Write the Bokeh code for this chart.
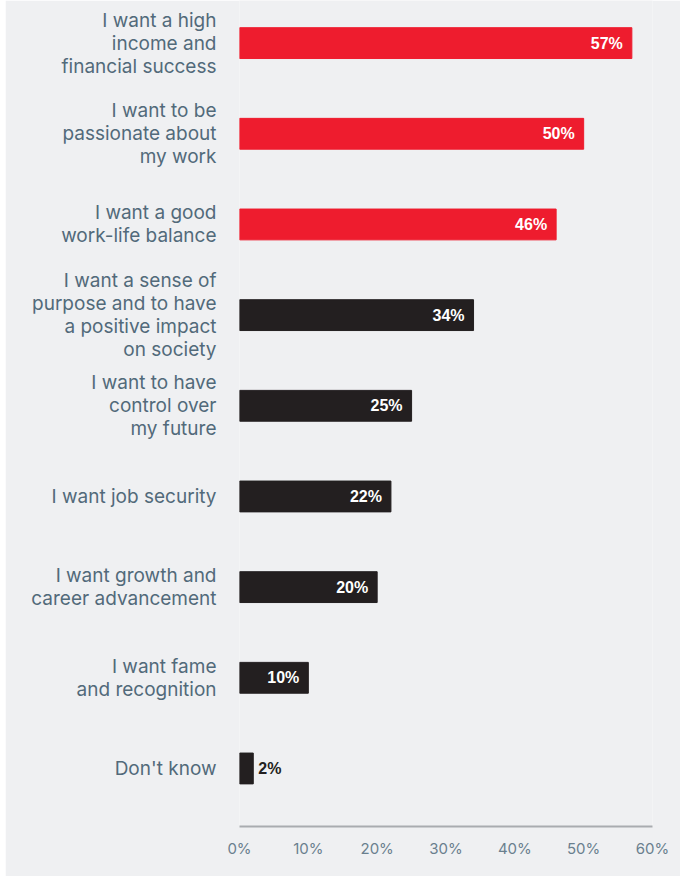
from bokeh.plotting import figure
from bokeh.models import Range1d, FixedTicker, PrintfTickFormatter, ColumnDataSource
from bokeh.embed import file_html
from bokeh.resources import INLINE
from bokeh.core.properties import value

categories = [
    "I want a high\nincome and\nfinancial success",
    "I want to be\npassionate about\nmy work",
    "I want a good\nwork-life balance",
    "I want a sense of\npurpose and to have\na positive impact\non society",
    "I want to have\ncontrol over\nmy future",
    "I want job security",
    "I want growth and\ncareer advancement",
    "I want fame\nand recognition",
    "Don't know",
]
values = [57, 50, 46, 34, 25, 22, 20, 10, 2]
highlight = [True, True, True, False, False, False, False, False, False]
x_ticks = [0, 10, 20, 30, 40, 50, 60]

RED = "#ee1c2e"
DARK = "#231f20"
BG = "#eff0f2"
LABEL = "#526a7a"

pos = list(range(len(categories)))
colors = [RED if h else DARK for h in highlight]
labels = [f"{v}%" for v in values]

inside = [v >= 5 for v in values]
src_in = ColumnDataSource(dict(y=[p for p, i in zip(pos, inside) if i],
                               x=[v for v, i in zip(values, inside) if i],
                               t=[l for l, i in zip(labels, inside) if i]))
src_out = ColumnDataSource(dict(y=[p for p, i in zip(pos, inside) if not i],
                                x=[v for v, i in zip(values, inside) if not i],
                                t=[l for l, i in zip(labels, inside) if not i]))

p = figure(width=675, height=876, output_backend="svg", toolbar_location=None,
           x_range=Range1d(0, 60), y_range=Range1d(8.64, -0.47),
           min_border_left=234, min_border_right=28, min_border_top=0, min_border_bottom=50,
           background_fill_color=BG, border_fill_color=BG, outline_line_color=None,
           margin=(0, 6, 0, 5))

p.hbar(y=pos, right=values, left=0, height=0.34, color=colors)

p.text(x="x", y="y", text="t", source=src_in, x_offset=-9, text_align="right",
       text_baseline="middle", text_color="white", text_font_style="bold",
       text_font_size="16px", text_font=value("Liberation Sans"))
p.text(x="x", y="y", text="t", source=src_out, x_offset=5, text_align="left",
       text_baseline="middle", text_color=DARK, text_font_style="bold",
       text_font_size="16px", text_font=value("Liberation Sans"))

p.xgrid.visible = False
p.ygrid.visible = False

xa = p.xaxis[0]
xa.ticker = FixedTicker(ticks=x_ticks)
xa.formatter = PrintfTickFormatter(format="%d%%")
xa.axis_line_color = "#a9acb0"
xa.axis_line_width = 2
xa.major_tick_line_color = None
xa.minor_tick_line_color = None
xa.major_label_text_color = "#6a7f8e"
xa.major_label_text_font = "Inter"
xa.major_label_text_font_style = "normal"
xa.major_label_text_font_size = "15px"
xa.major_label_standoff = 6

ya = p.yaxis[0]
ya.ticker = FixedTicker(ticks=pos)
ya.major_label_overrides = {i: c for i, c in zip(pos, categories)}
ya.axis_line_color = None
ya.major_tick_line_color = None
ya.minor_tick_line_color = None
ya.major_label_text_color = LABEL
ya.major_label_text_font = "Inter"
ya.major_label_text_font_size = "19px"
ya.major_label_text_line_height = 1.0
ya.major_label_standoff = 17

open("out.html", "w").write(file_html(p, INLINE))
